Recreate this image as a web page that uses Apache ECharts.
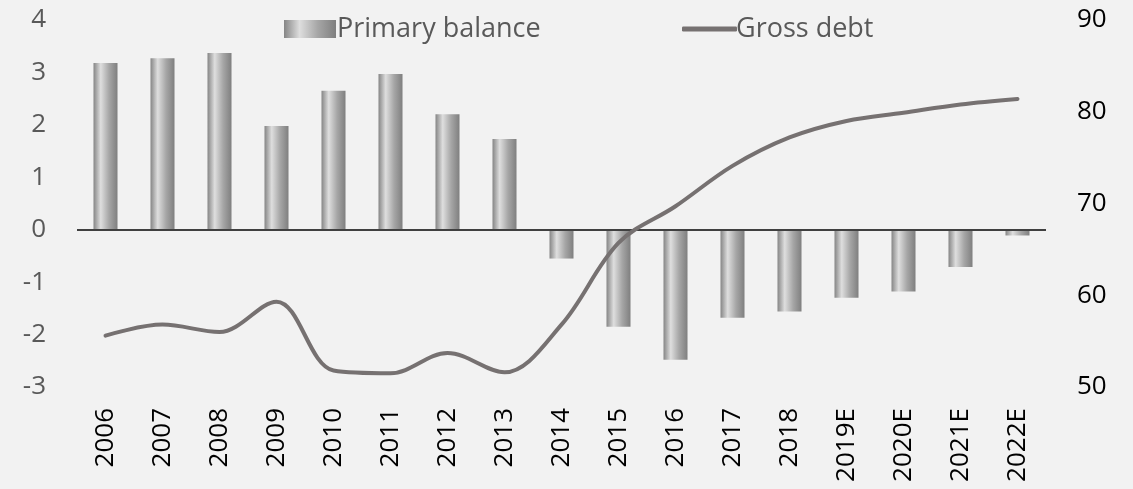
<!DOCTYPE html>
<html>
<head>
<meta charset="utf-8">
<style>
  html, body { margin: 0; padding: 0; background: #f2f2f2; }
  #chart { width: 1133px; height: 489px; }
</style>
<script src="https://cdn.jsdelivr.net/npm/echarts@6/dist/echarts.min.js"></script>
</head>
<body>
<div id="chart"></div>
<script>
// Years shown on the category axis
const years = ['2006', '2007', '2008', '2009', '2010', '2011', '2012', '2013', '2014',
  '2015', '2016', '2017', '2018', '2019E', '2020E', '2021E', '2022E'];

// Primary balance, % of GDP (left axis)
const primaryBalance = [3.18, 3.27, 3.37, 1.98, 2.65, 2.97, 2.20, 1.73, -0.55,
  -1.85, -2.48, -1.68, -1.56, -1.30, -1.18, -0.71, -0.11];

// Gross debt, % of GDP (right axis)
const grossDebt = [55.6, 56.8, 56.0, 59.3, 51.8, 51.5, 53.7, 51.6, 56.8,
  65.7, 69.7, 74.1, 77.2, 79.0, 79.9, 80.8, 81.4];

const leftTicks = { min: -3, max: 4, interval: 1 };
const rightTicks = { min: 50, max: 90, interval: 10 };

const FONT = '"Open Sans", "Noto Sans", sans-serif';

// Cylinder-like shading across each bar
const barGradient = new echarts.graphic.LinearGradient(0, 0, 1, 0, [
  { offset: 0, color: '#858585' },
  { offset: 0.3, color: '#dedede' },
  { offset: 0.65, color: '#a6a6a6' },
  { offset: 1, color: '#7f7f7f' }
]);

const chart = echarts.init(document.getElementById('chart'));
chart.setOption({
  backgroundColor: '#f2f2f2',
  animation: false,
  grid: { left: 77, right: 87, top: 20, bottom: 102 },
  legend: [
    {
      data: ['Primary balance'],
      left: 279, top: 10,
      itemWidth: 52, itemHeight: 18, itemGap: 0,
      icon: 'rect',
      textStyle: {
        fontFamily: FONT, fontSize: 27, lineHeight: 28, color: '#595959',
        padding: [0, 0, 0, -4]
      }
    },
    {
      data: ['Gross debt'],
      left: 677, top: 10,
      itemWidth: 55, itemHeight: 5,
      icon: 'roundRect',
      textStyle: {
        fontFamily: FONT, fontSize: 27, lineHeight: 28, color: '#595959',
        padding: [0, 0, 0, -6]
      }
    }
  ],
  xAxis: {
    type: 'category',
    data: years,
    axisLine: { show: false },
    axisTick: { show: false },
    axisLabel: {
      rotate: 90, margin: 21, interval: 0,
      fontFamily: FONT, fontSize: 26, color: '#000000'
    }
  },
  yAxis: [
    {
      type: 'value',
      min: leftTicks.min, max: leftTicks.max, interval: leftTicks.interval,
      splitLine: { show: false },
      axisLine: { show: false }, axisTick: { show: false },
      axisLabel: { margin: 31, fontFamily: FONT, fontSize: 26, color: '#595959' }
    },
    {
      type: 'value',
      min: rightTicks.min, max: rightTicks.max, interval: rightTicks.interval,
      splitLine: { show: false },
      axisLine: { show: false }, axisTick: { show: false },
      axisLabel: { margin: 31, fontFamily: FONT, fontSize: 26, color: '#000000' }
    }
  ],
  series: [
    {
      name: 'Primary balance',
      type: 'bar',
      yAxisIndex: 0,
      data: primaryBalance,
      barWidth: 24,
      itemStyle: { color: barGradient },
      markLine: {
        silent: true,
        symbol: 'none',
        label: { show: false },
        lineStyle: { color: '#404040', width: 2, type: 'solid' },
        data: [{ yAxis: 0 }]
      }
    },
    {
      name: 'Gross debt',
      type: 'line',
      yAxisIndex: 1,
      data: grossDebt,
      smooth: 0.35,
      showSymbol: false,
      symbol: 'none',
      z: 5,
      lineStyle: { color: '#767171', width: 4, cap: 'round' },
      itemStyle: { color: '#767171' }
    }
  ]
});
</script>
</body>
</html>
